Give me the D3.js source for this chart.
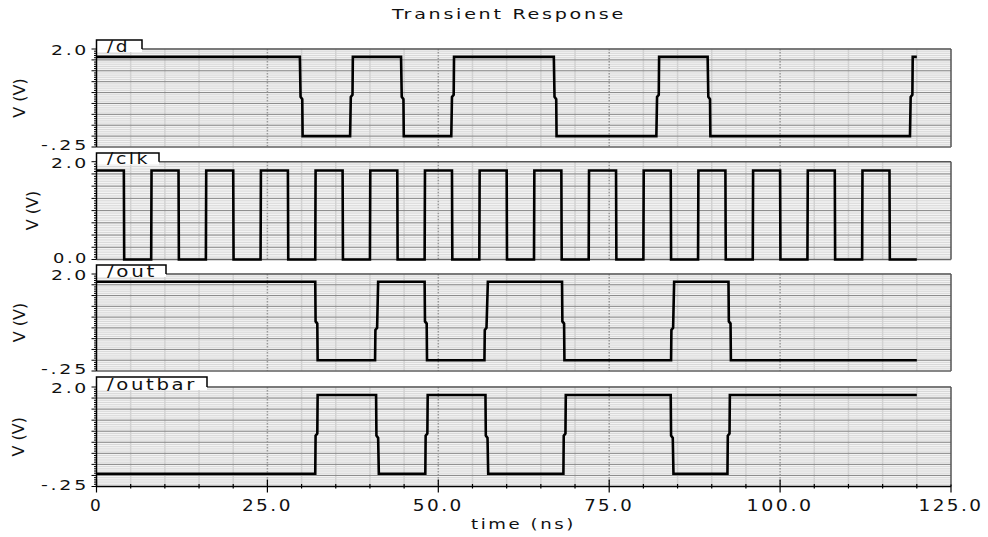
<!DOCTYPE html>
<html><head><meta charset="utf-8">
<script src="https://cdn.jsdelivr.net/npm/d3@7"></script>
<style>
body{margin:0;background:#fff}
svg{display:block}
text{font-family:"DejaVu Sans",sans-serif;fill:#111}
</style>
</head><body>
<svg id="c" width="988" height="537"></svg>
<script>
// ---------- data ----------
const title = "Transient Response";
const xLabel = "time (ns)";
const yLabel = "V (V)";
const xDomain = [0, 125];
const xTicks = [0, 25, 50, 75, 100, 125];
const xTickLabels = ["0", "25.0", "50.0", "75.0", "100.0", "125.0"];
const signalNames = ["/d", "/clk", "/out", "/outbar"];
const yDomains = [[-0.25, 2.0], [0, 2.0], [-0.25, 2.0], [-0.25, 2.0]];
const yTickLabels = [["-.25", "2.0"], ["0.0", "2.0"], ["-.25", "2.0"], ["-.25", "2.0"]];

// waveforms: [time (ns), volts]
const dWave = [[0,1.82],[29.75,1.82],[29.85,0.9],[30.1,0.85],[30.15,0],[37.1,0],[37.2,0.9],[37.45,0.95],[37.5,1.82],
  [44.55,1.82],[44.65,0.9],[44.9,0.85],[44.95,0],[51.9,0],[52.0,0.9],[52.25,0.95],[52.3,1.82],[66.9,1.82],[67.0,0.9],[67.25,0.85],[67.3,0],
  [81.9,0],[82.0,0.9],[82.25,0.95],[82.3,1.82],[89.4,1.82],[89.5,0.9],[89.75,0.85],[89.8,0],[119.0,0],[119.1,0.9],[119.35,0.95],[119.4,1.82],[120,1.82]];
const clkWave = [[0,1.82],[4,1.82],[4.05,0],[8,0],[8.05,1.82],[12,1.82],[12.05,0],[16,0],[16.05,1.82],
  [20,1.82],[20.05,0],[24,0],[24.05,1.82],[28,1.82],[28.05,0],[32,0],[32.05,1.82],[36,1.82],[36.05,0],
  [40,0],[40.05,1.82],[44,1.82],[44.05,0],[48,0],[48.05,1.82],[52,1.82],[52.05,0],[56,0],[56.05,1.82],
  [60,1.82],[60.05,0],[64,0],[64.05,1.82],[68,1.82],[68.05,0],[72,0],[72.05,1.82],[76,1.82],[76.05,0],
  [80,0],[80.05,1.82],[84,1.82],[84.05,0],[88,0],[88.05,1.82],[92,1.82],[92.05,0],[96,0],[96.05,1.82],
  [100,1.82],[100.05,0],[104,0],[104.05,1.82],[108,1.82],[108.05,0],[112,0],[112.05,1.82],[116,1.82],[116.05,0],[120,0]];
const outWave = [[0,1.82],[32.0,1.82],[32.05,0.9],[32.3,0.85],[32.35,0],[40.75,0],[40.8,0.7],[41.05,0.75],[41.2,1.82],
  [48.0,1.82],[48.05,0.9],[48.3,0.85],[48.35,0],[56.75,0],[56.8,0.7],[57.05,0.75],[57.25,1.82],[68.1,1.82],[68.15,0.9],[68.4,0.85],[68.45,0],
  [84.05,0],[84.1,0.7],[84.35,0.75],[84.5,1.82],[92.45,1.82],[92.5,0.9],[92.75,0.85],[92.8,0],[120,0]];
const outbarWave = [[0,0.04],[32.0,0.04],[32.05,0.9],[32.3,0.95],[32.35,1.82],[40.9,1.82],[40.95,0.9],[41.2,0.85],[41.3,0.04],
  [48.1,0.04],[48.15,0.9],[48.4,0.95],[48.45,1.82],[56.9,1.82],[56.95,0.9],[57.2,0.85],[57.3,0.04],[68.3,0.04],[68.35,0.9],[68.6,0.95],[68.65,1.82],
  [84.0,1.82],[84.05,0.9],[84.3,0.85],[84.4,0.04],[92.3,0.04],[92.35,0.9],[92.6,0.95],[92.65,1.82],[120,1.82]];
const waves = [dWave, clkWave, outWave, outbarWave];

// ---------- layout ----------
const X0 = 96.5, X1 = 951;
const layout = [
  {top:49,    bottom:147,   tabTop:40,  tabRight:142, ylx:19,   tabW:23},
  {top:161.7, bottom:259.5, tabTop:153, tabRight:159, ylx:32,   tabW:43},
  {top:274,   bottom:371,   tabTop:265, tabRight:166, ylx:19,   tabW:50},
  {top:387,   bottom:486.5, tabTop:377, tabRight:207, ylx:18.5, tabW:90}
];
const labelW = {"2.0":38, "-.25":48, "0.0":36, "0":13, "25.0":51, "50.0":51, "75.0":50, "100.0":67, "125.0":65};

const svg = d3.select("#c");
const x = d3.scaleLinear().domain(xDomain).range([X0, X1]);

function txt(g, s, attrs, len) {
  const t = g.append("text").text(s).attr("letter-spacing", "2px");
  for (const k in attrs) t.attr(k, attrs[k]);
  if (len) t.attr("textLength", len).attr("lengthAdjust", "spacingAndGlyphs");
  return t;
}
const r2 = v => Math.round(v * 1000) / 1000;

// title
txt(svg, title, {x:509, y:19, "text-anchor":"middle", "font-size":"14px"}, 234);

const vMinor = d3.range(5, 125, 5).filter(t => t % 25 !== 0);
const vMajor = [25, 50, 75, 100];

layout.forEach((L, i) => {
  const g = svg.append("g");
  const dom = yDomains[i];
  const y = d3.scaleLinear().domain(dom).range([L.bottom, L.top]);
  const minorV = d3.range(Math.round((dom[1]-dom[0])/0.05) + 1).map(k => r2(dom[0] + k*0.05));
  const majorV = minorV.filter(v => Math.abs(Math.round(v/0.25)*0.25 - v) < 1e-6);

  g.append("rect").attr("x", X0).attr("y", L.top).attr("width", X1-X0).attr("height", L.bottom-L.top)
    .attr("fill", "#f3f3f3");
  g.selectAll(".hm").data(minorV).join("line")
    .attr("x1", X0).attr("x2", X1).attr("y1", d => y(d)).attr("y2", d => y(d))
    .attr("stroke", "#d8d8d8").attr("stroke-width", 1);
  g.selectAll(".vm").data(vMinor).join("line")
    .attr("x1", d => x(d)).attr("x2", d => x(d)).attr("y1", L.top).attr("y2", L.bottom)
    .attr("stroke", "#d2d2d2").attr("stroke-width", 1.5);
  g.selectAll(".hM").data(majorV.filter(v => v > dom[0] && v < dom[1])).join("line")
    .attr("x1", X0).attr("x2", X1).attr("y1", d => y(d)).attr("y2", d => y(d))
    .attr("stroke", "#888").attr("stroke-width", 1);
  g.selectAll(".vM").data(vMajor).join("line")
    .attr("x1", d => x(d)).attr("x2", d => x(d)).attr("y1", L.top).attr("y2", L.bottom)
    .attr("stroke", "#999").attr("stroke-width", 1.5).attr("stroke-dasharray", "1.5,1.5");

  // frame
  g.append("line").attr("x1", X1).attr("x2", X1).attr("y1", L.top).attr("y2", L.bottom)
    .attr("stroke", "#555").attr("stroke-width", 1.5);
  g.append("line").attr("x1", X0).attr("x2", X1).attr("y1", L.bottom).attr("y2", L.bottom)
    .attr("stroke", i === 3 ? "#000" : "#666").attr("stroke-width", 1.5);
  g.append("line").attr("x1", L.tabRight).attr("x2", X1).attr("y1", L.top).attr("y2", L.top)
    .attr("stroke", "#555").attr("stroke-width", 1.5);

  // tab
  g.append("rect").attr("x", X0).attr("y", L.tabTop).attr("width", L.tabRight - X0).attr("height", L.top + 3 - L.tabTop)
    .attr("fill", "#fff");
  g.append("path").attr("d", `M${X0},${L.top+3}V${L.tabTop}H${L.tabRight}V${L.top}`)
    .attr("fill", "none").attr("stroke", "#000").attr("stroke-width", 1.5);
  txt(g, signalNames[i], {x:107, y:L.top + 2.5, "font-size":"15px"}, L.tabW);

  // left axis
  g.append("line").attr("x1", X0).attr("x2", X0).attr("y1", L.top + 3).attr("y2", L.bottom)
    .attr("stroke", "#000").attr("stroke-width", 1.5);
  g.selectAll(".lt").data(minorV).join("line")
    .attr("x1", d => majorV.includes(d) ? X0 - 5 : X0 - 2.5).attr("x2", X0)
    .attr("y1", d => y(d)).attr("y2", d => y(d))
    .attr("stroke", "#000").attr("stroke-width", 1);

  // trace
  const line = d3.line().x(d => x(d[0])).y(d => y(d[1]));
  g.append("path").datum(waves[i]).attr("d", line)
    .attr("fill", "none").attr("stroke", "#000").attr("stroke-width", 2.6)
    .attr("stroke-linejoin", "miter");

  // y labels
  const [lo, hi] = yTickLabels[i];
  txt(g, hi, {x:89, y:y(dom[1]) + 6, "text-anchor":"end", "font-size":"14px"}, labelW[hi]);
  txt(g, lo, {x:89, y:y(dom[0]) + 3, "text-anchor":"end", "font-size":"14px"}, labelW[lo]);
  const cy = (L.top + L.bottom) / 2;
  svg.append("text").text(yLabel)
    .attr("text-anchor", "middle").attr("dy", "0.35em").attr("font-size", "16px")
    .attr("transform", `translate(${L.ylx},${cy}) rotate(-90)`);
});

// x axis
const Lb = layout[3];
const ax = svg.append("g");
const allXT = d3.range(0, 126, 5);
ax.selectAll("line").data(allXT).join("line")
  .attr("x1", d => x(d)).attr("x2", d => x(d))
  .attr("y1", d => d % 25 === 0 ? (d === 125 ? Lb.bottom - 2 : Lb.bottom - 7) : Lb.bottom - 2.5)
  .attr("y2", d => d % 25 === 0 ? Lb.bottom + 6 : Lb.bottom + 2)
  .attr("stroke", "#000").attr("stroke-width", 1.2);
xTicks.forEach((t, k) => {
  txt(ax, xTickLabels[k], {x:x(t), y:510.5, "text-anchor":"middle", "font-size":"15px"}, labelW[xTickLabels[k]]);
});
txt(svg, xLabel, {x:523.5, y:529, "text-anchor":"middle", "font-size":"14px"}, 105);
</script>
</body></html>
